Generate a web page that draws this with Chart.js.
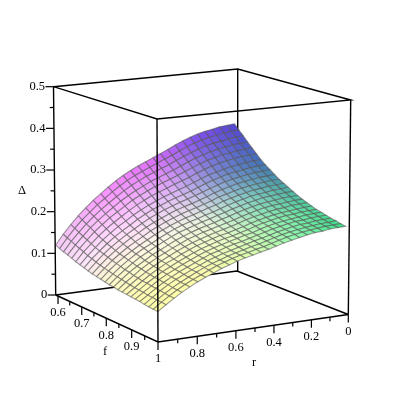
<!DOCTYPE html>
<html><head><meta charset="utf-8">
<style>html,body{margin:0;padding:0;background:#fff;overflow:hidden}canvas{display:block}</style>
<script src="https://cdn.jsdelivr.net/npm/chart.js@4"></script></head>
<body><canvas id="c" width="400" height="400"></canvas>
<script>
const rVals=[0.02,0.061,0.102,0.143,0.183,0.224,0.265,0.306,0.347,0.388,0.428,0.469,0.51,0.551,0.592,0.633,0.673,0.714,0.755,0.796,0.837,0.878,0.918,0.959,1];
const fVals=[0.592,0.609,0.626,0.643,0.66,0.677,0.694,0.711,0.728,0.745,0.762,0.779,0.796,0.813,0.83,0.847,0.864,0.881,0.898,0.915,0.932,0.949,0.966,0.983,1];
const delta=[
[.366,.364,.362,.358,.355,.350,.344,.337,.329,.320,.312,.304,.296,.288,.279,.269,.258,.245,.231,.217,.201,.184,.165,.144,.120],
[.354,.352,.350,.346,.343,.338,.333,.326,.318,.309,.302,.294,.286,.278,.270,.260,.249,.237,.223,.210,.194,.178,.160,.139,.116],
[.343,.341,.339,.335,.332,.328,.322,.315,.308,.300,.292,.285,.277,.270,.261,.252,.241,.229,.216,.203,.188,.172,.154,.135,.112],
[.331,.329,.328,.324,.321,.317,.311,.305,.298,.290,.282,.275,.268,.261,.252,.243,.233,.222,.209,.196,.182,.167,.149,.130,.109],
[.320,.319,.317,.313,.311,.306,.301,.295,.288,.280,.273,.266,.259,.252,.244,.235,.226,.214,.202,.190,.176,.161,.144,.126,.105],
[.309,.308,.306,.303,.300,.296,.291,.285,.278,.270,.264,.257,.250,.243,.236,.227,.218,.207,.195,.183,.170,.155,.139,.122,.101],
[.298,.297,.295,.292,.289,.285,.280,.275,.268,.261,.254,.248,.241,.235,.227,.219,.210,.200,.188,.177,.164,.150,.134,.117,.098],
[.289,.288,.286,.283,.280,.277,.272,.266,.260,.253,.246,.240,.234,.228,.220,.213,.204,.194,.182,.171,.159,.145,.130,.114,.095],
[.281,.279,.278,.275,.272,.268,.264,.258,.252,.245,.239,.233,.227,.221,.214,.206,.198,.188,.177,.166,.154,.141,.127,.110,.092],
[.273,.271,.270,.267,.264,.261,.256,.251,.245,.238,.232,.226,.221,.215,.208,.200,.192,.183,.172,.162,.150,.137,.123,.107,.089],
[.265,.264,.262,.260,.257,.254,.249,.244,.239,.232,.226,.220,.215,.209,.202,.195,.187,.178,.167,.157,.146,.133,.120,.104,.087],
[.259,.257,.256,.253,.251,.247,.243,.238,.233,.226,.221,.215,.209,.204,.197,.190,.182,.173,.163,.153,.142,.130,.117,.102,.085],
[.253,.251,.250,.247,.245,.242,.237,.233,.227,.221,.215,.210,.204,.199,.193,.186,.178,.169,.159,.150,.139,.127,.114,.099,.083],
[.247,.246,.244,.242,.240,.236,.232,.227,.222,.216,.211,.205,.200,.194,.188,.182,.174,.165,.156,.146,.136,.124,.111,.097,.081],
[.241,.240,.239,.236,.234,.231,.227,.222,.217,.211,.206,.200,.195,.190,.184,.177,.170,.161,.152,.143,.132,.121,.109,.095,.080],
[.236,.235,.233,.231,.229,.226,.222,.217,.212,.206,.201,.196,.191,.186,.180,.174,.166,.158,.149,.140,.130,.119,.106,.093,.078],
[.231,.230,.229,.226,.224,.221,.217,.213,.208,.202,.197,.192,.187,.182,.176,.170,.163,.155,.146,.137,.127,.116,.104,.091,.077],
[.227,.226,.224,.222,.220,.217,.213,.209,.204,.198,.193,.188,.184,.179,.173,.167,.160,.152,.143,.135,.125,.114,.102,.089,.076],
[.223,.222,.221,.218,.217,.214,.210,.206,.201,.195,.190,.185,.181,.176,.170,.164,.157,.149,.141,.132,.123,.112,.101,.088,.075],
[.220,.219,.218,.215,.213,.210,.207,.203,.198,.192,.188,.183,.178,.173,.168,.162,.155,.147,.139,.130,.121,.111,.099,.087,.074],
[.217,.216,.215,.212,.211,.208,.204,.200,.195,.190,.185,.180,.176,.171,.165,.160,.153,.145,.137,.129,.119,.109,.098,.085,.073],
[.214,.213,.212,.209,.208,.205,.201,.197,.192,.187,.183,.178,.173,.168,.163,.157,.151,.143,.135,.127,.118,.108,.097,.084,.071],
[.212,.210,.209,.207,.205,.202,.199,.195,.190,.185,.180,.176,.171,.166,.161,.155,.149,.142,.134,.125,.116,.106,.095,.083,.070],
[.209,.208,.207,.205,.203,.200,.197,.193,.188,.183,.178,.174,.169,.165,.160,.154,.148,.140,.132,.124,.115,.105,.094,.082,.069],
[.207,.206,.205,.202,.201,.198,.194,.190,.186,.181,.176,.172,.167,.163,.158,.152,.146,.138,.131,.123,.114,.104,.093,.081,.068]];
const zTicks=[0,0.1,0.2,0.3,0.4,0.5], zMinor=[0.05,0.15,0.25,0.35,0.45];
const fTicks=[0.6,0.7,0.8,0.9], fMinor=[0.65,0.75,0.85,0.95];
const rTicks=[0,0.2,0.4,0.6,0.8,1], rMinor=[0.1,0.3,0.5,0.7,0.9];

const F0=0.59, Z1=0.5;
const botQ=[[55.7,295],[158,342],[348.3,314.5],[237,271]];
const topQ=[[53.5,86.7],[157,119],[350.7,100],[237.7,69]];
function homog(q){
  const [p0,p1,p2,p3]=q;
  const dx1=p1[0]-p2[0],dx2=p3[0]-p2[0],sx=p0[0]-p1[0]+p2[0]-p3[0];
  const dy1=p1[1]-p2[1],dy2=p3[1]-p2[1],sy=p0[1]-p1[1]+p2[1]-p3[1];
  const den=dx1*dy2-dx2*dy1;
  const g=(sx*dy2-dx2*sy)/den,h=(dx1*sy-sx*dy1)/den;
  const a=p1[0]-p0[0]+g*p1[0],b=p3[0]-p0[0]+h*p3[0],c=p0[0];
  const d=p1[1]-p0[1]+g*p1[1],e=p3[1]-p0[1]+h*p3[1],f=p0[1];
  return (u,v)=>{const w=g*u+h*v+1;return [(a*u+b*v+c)/w,(d*u+e*v+f)/w];};
}
const HB=homog(botQ),HT=homog(topQ);
function P(r,f,z){
  const u=(f-F0)/(1-F0),v=1-r;
  const b=HB(u,v),t=HT(u,v),k=z/Z1;
  return {x:b[0]+(t[0]-b[0])*k,y:b[1]+(t[1]-b[1])*k};
}
const colF=[0.6,0.7,0.8,0.9,1],colR=[0,0.25,0.5,0.75,1];
const colT=[
[[80,70,205],[130,85,235],[225,115,250],[250,150,255],[245,205,245]],
[[60,110,180],[115,135,205],[220,185,245],[255,210,255],[252,230,248]],
[[70,170,160],[135,205,195],[230,240,225],[253,248,232],[252,248,205]],
[[70,215,150],[145,238,175],[232,252,198],[252,252,195],[255,252,178]],
[[50,220,130],[135,248,172],[215,252,172],[252,252,172],[255,255,168]]];
function cellColor(r,f){
  f=Math.max(f,0.6);
  let i=Math.min(3,Math.floor((f-0.6)/0.1)),j=Math.min(3,Math.floor(r/0.25));
  const s=(f-colF[i])/0.1,t=(r-colR[j])/0.25,o=[];
  for(let k=0;k<3;k++){
    o[k]=Math.round((colT[i][j][k]*(1-t)+colT[i][j+1][k]*t)*(1-s)+(colT[i+1][j][k]*(1-t)+colT[i+1][j+1][k]*t)*s);
  }
  return `rgb(${o[0]},${o[1]},${o[2]})`;
}
const ds=[];
const line=(pts,order,w)=>ds.push({data:pts,showLine:true,pointRadius:0,borderColor:'#000',borderWidth:w||1.4,fill:false,order,tension:0,clip:false});
line([P(1,F0,0),P(0,F0,0),P(0,1,0)],900);
line([P(0,F0,0),P(0,F0,Z1)],900);
let ord=800;
for(let i=0;i<fVals.length-1;i++){
  for(let j=0;j<rVals.length-1;j++){
    const rr=[rVals[j],rVals[j+1]],ff=[fVals[i],fVals[i+1]];
    const a=P(rr[0],ff[0],delta[i][j]),b=P(rr[1],ff[0],delta[i][j+1]),c=P(rr[1],ff[1],delta[i+1][j+1]),d=P(rr[0],ff[1],delta[i+1][j]);
    ds.push({data:[a,b,c,d,a],showLine:true,pointRadius:0,borderWidth:1.1,borderColor:'rgba(85,85,85,0.58)',
      backgroundColor:cellColor((rr[0]+rr[1])/2,(ff[0]+ff[1])/2),fill:'shape',order:ord-0.01*(i+j),tension:0,clip:false});
  }
}
line([P(1,F0,0),P(1,1,0),P(0,1,0)],10);
line([P(1,F0,0),P(1,F0,Z1),P(1,1,Z1),P(0,1,Z1),P(0,F0,Z1),P(1,F0,Z1)],10);
line([P(1,1,0),P(1,1,Z1)],10);
line([P(0,1,0),P(0,1,Z1)],10);
const LM=8,Lm=4;
const tickZ=(z,l)=>{const p=P(1,F0,z);line([p,{x:p.x-l,y:p.y}],5,1.2);};
const tickD=(p,l)=>line([p,{x:p.x,y:p.y+l}],5,1.2);
zTicks.forEach(z=>tickZ(z,LM));zMinor.forEach(z=>tickZ(z,Lm));
fTicks.forEach(f=>tickD(P(1,f,0),LM));fMinor.forEach(f=>tickD(P(1,f,0),Lm));
rTicks.forEach(r=>tickD(P(r,1,0),LM));rMinor.forEach(r=>tickD(P(r,1,0),Lm));

const textPlugin={id:'txt',afterDraw(ch){
  const c=ch.ctx,X=ch.scales.x,Y=ch.scales.y;
  const T=(s,p,al)=>{c.textAlign=al||'center';c.fillText(s,X.getPixelForValue(p.x),Y.getPixelForValue(p.y));};
  c.save();c.fillStyle='#000';c.font='12.5px "Liberation Serif"';c.textBaseline='middle';
  zTicks.forEach(z=>{const p=P(1,F0,z);T(String(z),{x:p.x-8.5,y:p.y},'right');});
  fTicks.forEach(f=>{const p=P(1,f,0);T(String(f),{x:p.x,y:p.y+17});});
  rTicks.forEach(r=>{const p=P(r,1,0);T(String(r),{x:p.x,y:p.y+17});});
  T('Δ',{x:22,y:191});T('f',{x:105,y:352});T('r',{x:254,y:363});
  c.restore();
}};
new Chart(document.getElementById('c'),{type:'scatter',data:{datasets:ds},plugins:[textPlugin],
 options:{responsive:false,animation:false,layout:{padding:0},
  plugins:{legend:{display:false},tooltip:{enabled:false}},
  scales:{x:{type:'linear',min:0,max:400,display:false},y:{type:'linear',min:0,max:400,reverse:true,display:false}}}});
</script></body></html>
